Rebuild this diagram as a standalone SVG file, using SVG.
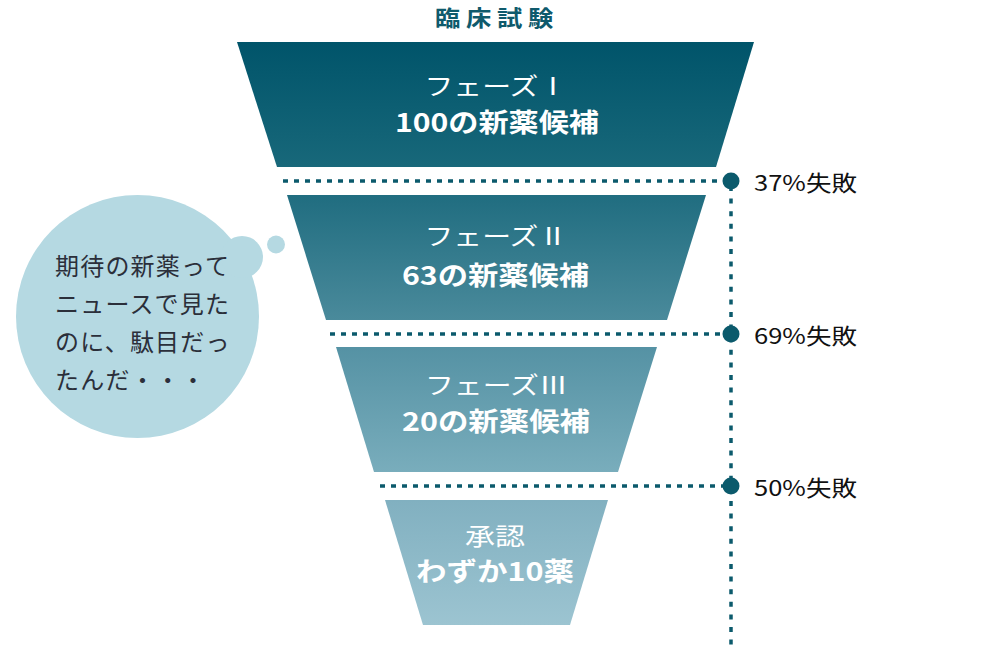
<svg xmlns="http://www.w3.org/2000/svg" width="991" height="651" viewBox="0 0 991 651">
<defs>
<linearGradient id="g1" x1="0" y1="0" x2="0" y2="1"><stop offset="0" stop-color="#00546A"/><stop offset="1" stop-color="#18687A"/></linearGradient>
<linearGradient id="g2" x1="0" y1="0" x2="0" y2="1"><stop offset="0" stop-color="#206D80"/><stop offset="1" stop-color="#4A8A9B"/></linearGradient>
<linearGradient id="g3" x1="0" y1="0" x2="0" y2="1"><stop offset="0" stop-color="#5592A4"/><stop offset="1" stop-color="#79ADBC"/></linearGradient>
<linearGradient id="g4" x1="0" y1="0" x2="0" y2="1"><stop offset="0" stop-color="#81B0C0"/><stop offset="1" stop-color="#9CC4D1"/></linearGradient>
</defs>
<style>
text{font-family:"Noto Sans CJK JP","Noto Sans",sans-serif}
.l1{fill:#fff;font-size:24px}
.l2{fill:#fff;font-size:26px;font-weight:bold}
.pct{fill:#111;font-size:22px}
.bub{fill:#2b2f3a;font-size:24px;letter-spacing:1.2px}
.hd{stroke:#0B5A6C;stroke-width:3.5;stroke-dasharray:5 6;fill:none}
.vd{stroke:#0B5A6C;stroke-width:3.5;stroke-dasharray:5 7.6;fill:none}
.dot{fill:#0B5A6C}
.bc{fill:#B5D9E2}
</style>
<rect width="991" height="651" fill="#fff"/>
<text id="title" transform="translate(435,26) scale(1.15,1)" style="font-size:22px;font-weight:bold;fill:#0F5A6C;letter-spacing:5px">臨床試験</text>
<g id="bubble">
<circle class="bc" cx="137.5" cy="316.5" r="121.5"/>
<circle class="bc" cx="242" cy="257" r="21"/>
<circle class="bc" cx="276" cy="244.5" r="9"/>
<text class="bub" x="55" y="275">期待の新薬って</text>
<text class="bub" x="55" y="313">ニュースで見た</text>
<text class="bub" x="55" y="351">のに、駄目だっ</text>
<text class="bub" x="55" y="389">たんだ・・・</text>
</g>
<g id="connectors">
<line class="hd" x1="283" y1="181" x2="724" y2="181"/>
<line class="hd" x1="330" y1="334" x2="724" y2="334"/>
<line class="hd" x1="380" y1="486" x2="724" y2="486"/>
<line class="vd" x1="731" y1="186" x2="731" y2="651"/>
<circle class="dot" cx="731" cy="181" r="8.5"/>
<circle class="dot" cx="731" cy="334" r="8.5"/>
<circle class="dot" cx="731" cy="486" r="8.5"/>
</g>
<g id="phase1">
<polygon points="237,42 754,42 716,167 277,167" fill="url(#g1)"/>
<text class="l1" x="424.5" y="95" textLength="142.8" lengthAdjust="spacingAndGlyphs">フェーズⅠ</text>
<text class="l2" x="395" y="132" textLength="204" lengthAdjust="spacingAndGlyphs">100の新薬候補</text>
</g>
<g id="phase2">
<polygon points="287,195 706,195 667,320 326,320" fill="url(#g2)"/>
<text class="l1" x="424.5" y="245" textLength="142.8" lengthAdjust="spacingAndGlyphs">フェーズⅡ</text>
<text class="l2" x="402" y="285" textLength="187" lengthAdjust="spacingAndGlyphs">63の新薬候補</text>
</g>
<g id="phase3">
<polygon points="336,347 657,347 618,472 374,472" fill="url(#g3)"/>
<text class="l1" x="425" y="394" textLength="142.8" lengthAdjust="spacingAndGlyphs">フェーズⅢ</text>
<text class="l2" x="402" y="431" textLength="188" lengthAdjust="spacingAndGlyphs">20の新薬候補</text>
</g>
<g id="approval">
<polygon points="385,500 608,500 570,625 423,625" fill="url(#g4)"/>
<text class="l1" x="465" y="545" textLength="60" lengthAdjust="spacingAndGlyphs">承認</text>
<text class="l2" x="416" y="581" textLength="158" lengthAdjust="spacingAndGlyphs">わずか10薬</text>
</g>
<g id="fail1"><text class="pct" x="754" y="191" textLength="103" lengthAdjust="spacingAndGlyphs">37%失敗</text></g>
<g id="fail2"><text class="pct" x="754" y="344" textLength="103" lengthAdjust="spacingAndGlyphs">69%失敗</text></g>
<g id="fail3"><text class="pct" x="754" y="496" textLength="103" lengthAdjust="spacingAndGlyphs">50%失敗</text></g>
</svg>
